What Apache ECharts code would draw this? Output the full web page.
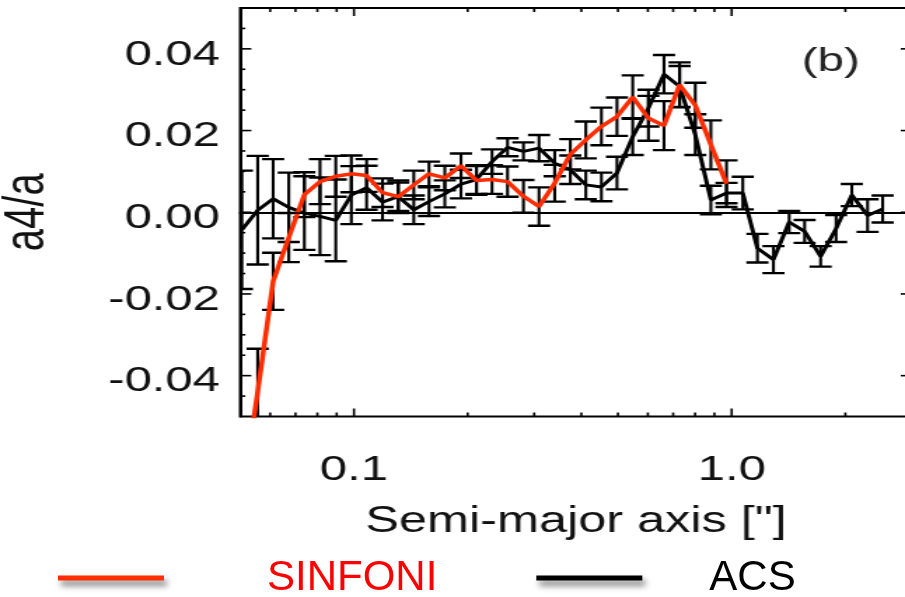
<!DOCTYPE html>
<html>
<head>
<meta charset="utf-8">
<title>a4/a versus semi-major axis</title>
<script src="https://cdn.jsdelivr.net/npm/echarts@6/dist/echarts.min.js"></script>
<style>
  html, body { margin: 0; padding: 0; background: #fff; overflow: hidden; }
  #page { position: relative; width: 905px; height: 597px; }
  /* the plot panel is typeset narrow and widened horizontally */
  #plot { position: absolute; left: 0; top: 0; width: 646px; height: 597px;
          transform-origin: 0 0; transform: scaleX(1.40093); }
  #key  { position: absolute; left: 0; top: 0; width: 905px; height: 597px; }
</style>
</head>
<body>
<div id="page"><div id="plot"></div><div id="key"></div></div>
<script>
// ACS isophotes: semi-major axis ["], a4/a and its 1-sigma error
const radiusAcs = [0.0505, 0.0556, 0.0611, 0.0672, 0.0739, 0.0813, 0.0895, 0.0984, 0.108, 0.119,
                   0.131, 0.144, 0.158, 0.174, 0.192, 0.211, 0.232, 0.255, 0.281, 0.309,
                   0.340, 0.374, 0.411, 0.452, 0.497, 0.547, 0.602, 0.662, 0.728, 0.801,
                   0.881, 0.969, 1.07, 1.17, 1.29, 1.42, 1.56, 1.72, 1.89, 2.08,
                   2.29, 2.51];
const a4Acs = [-0.0043, 0.0005, 0.0033, 0.0012, -0.0002, -0.0010, -0.0020, 0.0042, 0.0060, 0.0025,
               0.0038, 0.0006, 0.0026, 0.0045, 0.0069, 0.0080, 0.0124, 0.0159, 0.0149, 0.0157,
               0.0120, 0.0104, 0.0067, 0.0062, 0.0096, 0.0185, 0.0255, 0.0338, 0.0308, 0.0190,
               0.0030, 0.0047, 0.0047, -0.0088, -0.0116, -0.0024, -0.0047, -0.0108, -0.0040, 0.0042,
               -0.0008, 0.0008];
const errAcs = [0.0145, 0.0133, 0.0097, 0.0085, 0.0090, 0.0095, 0.0100, 0.0071, 0.0054, 0.0045,
                0.0040, 0.0035, 0.0035, 0.0033, 0.0035, 0.0035, 0.0030, 0.0022, 0.0022, 0.0032,
                0.0032, 0.0035, 0.0035, 0.0035, 0.0040, 0.0045, 0.0045, 0.0047, 0.0050, 0.0050,
                0.0035, 0.0025, 0.0040, 0.0035, 0.0033, 0.0027, 0.0028, 0.0025, 0.0033, 0.0027,
                0.0040, 0.0033];

// SINFONI isophotes
const radiusSinfoni = [0.0505, 0.0556, 0.0611, 0.0672, 0.0739, 0.0813, 0.0895, 0.0984, 0.108, 0.119,
                       0.131, 0.144, 0.158, 0.174, 0.192, 0.211, 0.232, 0.255, 0.281, 0.309,
                       0.340, 0.374, 0.411, 0.452, 0.497, 0.547, 0.602, 0.662, 0.728, 0.801,
                       0.881, 0.969];
const a4Sinfoni = [-0.0700, -0.0440, -0.0169, -0.0062, 0.0043, 0.0075, 0.0088, 0.0094, 0.0090, 0.0048,
                   0.0038, 0.0067, 0.0094, 0.0084, 0.0114, 0.0078, 0.0080, 0.0075, 0.0039, 0.0014,
                   0.0071, 0.0142, 0.0177, 0.0210, 0.0234, 0.0282, 0.0230, 0.0212, 0.0312, 0.0262,
                   0.0165, 0.0070];
const errSinfoni = [0.0120, 0.0106, 0.0070, 0.0060, 0.0055, 0.0055, 0.0050, 0.0045, 0.0040, 0.0035,
                    0.0035, 0.0035, 0.0030, 0.0030, 0.0030, 0.0035, 0.0035, 0.0037, 0.0040, 0.0047,
                    0.0045, 0.0037, 0.0045, 0.0046, 0.0047, 0.0053, 0.0055, 0.0060, 0.0055, 0.0055,
                    0.0060, 0.0057];

// axis ticks and their labels
const xMajorTicks = [0.1, 1];
const xTickLabels = ['0.1', '1.0'];
const xMinorTicks = [0.06, 0.07, 0.08, 0.09, 0.2, 0.3, 0.4, 0.5, 0.6, 0.7, 0.8, 0.9, 2, 3];
const yMajorTicks = [-0.04, -0.02, 0, 0.02, 0.04];
const yTickLabels = ['-0.04', '-0.02', '0.00', '0.02', '0.04'];
const yMinorTicks = [-0.045, -0.035, -0.03, -0.025, -0.015, -0.01, -0.005,
                     0.005, 0.01, 0.015, 0.025, 0.03, 0.035, 0.045];

const X_MIN = 0.05, X_MAX = 3, Y_MIN = -0.05, Y_MAX = 0.05;
const RED = '#ff2d00';
const FONT = '"Liberation Sans", Arial, Helvetica, sans-serif';
const INK = '#111';

function labelFor(v, ticks, labels) {
  for (let i = 0; i < ticks.length; i++) {
    if (Math.abs(v - ticks[i]) < 1e-6) return labels[i];
  }
  return '';
}

// tick marks on all four sides of the frame
const tickData = [].concat(
  xMajorTicks.map(v => [v, Y_MIN, 0, 1]),
  xMinorTicks.map(v => [v, Y_MIN, 0, 0]),
  yMajorTicks.map(v => [X_MIN, v, 1, 1]),
  yMinorTicks.map(v => [X_MIN, v, 1, 0])
);

function renderTick(params, api) {
  const axis = api.value(2), major = api.value(3);
  const st = { stroke: '#000', lineWidth: 1.6 };
  if (axis === 0) {
    const x = api.value(0);
    const b = api.coord([x, Y_MIN]), t = api.coord([x, Y_MAX]);
    const len = major ? 8 : 4;
    return { type: 'group', children: [
      { type: 'line', shape: { x1: b[0], y1: b[1], x2: b[0], y2: b[1] - len }, style: st },
      { type: 'line', shape: { x1: t[0], y1: t[1], x2: t[0], y2: t[1] + len }, style: st }
    ] };
  }
  const y = api.value(1);
  const l = api.coord([X_MIN, y]), r = api.coord([X_MAX, y]);
  const len = major ? 7.9 : 3.6;
  return { type: 'group', children: [
    { type: 'line', shape: { x1: l[0], y1: l[1], x2: l[0] + len, y2: l[1] }, style: st },
    { type: 'line', shape: { x1: r[0], y1: r[1], x2: r[0] - len, y2: r[1] }, style: st }
  ] };
}

function renderErrorBar(params, api) {
  const x = api.value(0);
  const lo = api.coord([x, api.value(1)]);
  const hi = api.coord([x, api.value(2)]);
  const w = 7.9;
  const cap = { stroke: '#000', lineWidth: 2.4 };
  return { type: 'group', children: [
    { type: 'line', shape: { x1: hi[0], y1: hi[1], x2: lo[0], y2: lo[1] }, style: { stroke: '#000', lineWidth: 2.1 } },
    { type: 'line', shape: { x1: hi[0] - w, y1: hi[1], x2: hi[0] + w, y2: hi[1] }, style: cap },
    { type: 'line', shape: { x1: lo[0] - w, y1: lo[1], x2: lo[0] + w, y2: lo[1] }, style: cap }
  ] };
}

const plot = echarts.init(document.getElementById('plot'));
plot.setOption({
  animation: false,
  backgroundColor: '#fff',
  grid: { left: 171.5, top: 8, width: 479.4, height: 408.5, show: true,
          outerBoundsMode: 'none', containLabel: false,
          borderColor: '#000', borderWidth: 2, backgroundColor: 'transparent' },
  xAxis: {
    type: 'log', logBase: 10, min: X_MIN, max: X_MAX,
    name: 'Semi-major axis ["]', nameLocation: 'middle', nameGap: 88,
    nameTextStyle: { fontFamily: FONT, fontSize: 36, color: INK },
    axisLine: { show: true, lineStyle: { color: '#000', width: 2 } },
    axisTick: { show: false },
    splitLine: { show: false },
    axisLabel: { margin: 36, fontFamily: FONT, fontSize: 35, color: INK,
                 formatter: v => labelFor(v, xMajorTicks, xTickLabels) }
  },
  yAxis: {
    type: 'value', min: Y_MIN, max: Y_MAX, interval: 0.01,
    name: 'a4/a', nameLocation: 'middle', nameGap: 132, nameRotate: 90,
    nameTextStyle: { fontFamily: FONT, fontSize: 40, color: INK },
    axisLine: { show: true, lineStyle: { color: '#000', width: 2 } },
    axisTick: { show: false },
    splitLine: { show: false },
    axisLabel: { margin: 14.5, fontFamily: FONT, fontSize: 35, color: INK,
                 verticalAlign: 'top', lineHeight: 12,
                 formatter: v => labelFor(v, yMajorTicks, yTickLabels) }
  },
  graphic: [{
    type: 'text', x: 593, y: 62,
    style: { text: '(b)', fontFamily: FONT, fontSize: 34, fill: '#222',
             textAlign: 'center', textVerticalAlign: 'middle' }
  }],
  series: [
    { type: 'custom', name: 'frame ticks', silent: true, clip: false,
      renderItem: renderTick, data: tickData, z: 5 },
    { type: 'custom', name: 'ACS error', silent: true, clip: true,
      encode: { x: 0, y: [1, 2] }, renderItem: renderErrorBar,
      data: radiusAcs.map((r, i) => [r, a4Acs[i] - errAcs[i], a4Acs[i] + errAcs[i]]) },
    { type: 'custom', name: 'SINFONI error', silent: true, clip: true,
      encode: { x: 0, y: [1, 2] }, renderItem: renderErrorBar,
      data: radiusSinfoni.map((r, i) => [r, a4Sinfoni[i] - errSinfoni[i], a4Sinfoni[i] + errSinfoni[i]]) },
    { type: 'line', name: 'ACS', showSymbol: false, symbol: 'none', clip: true,
      lineStyle: { color: '#000', width: 3 }, itemStyle: { color: '#000' },
      data: radiusAcs.map((r, i) => [r, a4Acs[i]]),
      markLine: { silent: true, symbol: 'none', label: { show: false },
                  lineStyle: { color: '#000', width: 1.6, type: 'solid' },
                  data: [{ yAxis: 0 }] } },
    { type: 'line', name: 'SINFONI', showSymbol: false, symbol: 'none', clip: true,
      lineStyle: { color: RED, width: 3.5 }, itemStyle: { color: RED },
      data: radiusSinfoni.map((r, i) => [r, a4Sinfoni[i]]) }
  ]
});

// key below the plot, set at normal width
const key = echarts.init(document.getElementById('key'));
key.setOption({
  animation: false,
  legend: {
    left: 58, top: 557, padding: 0, icon: 'rect', itemWidth: 106, itemHeight: 5, itemGap: 99,
    selectedMode: false,
    itemStyle: { shadowBlur: 6, shadowColor: 'rgba(0,0,0,0.55)', shadowOffsetX: 3, shadowOffsetY: 5 },
    textStyle: { fontFamily: FONT, fontSize: 42, color: '#000' },
    data: [
      { name: 'SINFONI', textStyle: { color: '#ff0000', padding: [0, 0, 0, 98] } },
      { name: 'ACS', textStyle: { color: '#000', padding: [0, 0, 0, 62] } }
    ]
  },
  series: [
    { type: 'custom', name: 'SINFONI', coordinateSystem: 'none', data: [],
      renderItem: () => null, itemStyle: { color: RED } },
    { type: 'custom', name: 'ACS', coordinateSystem: 'none', data: [],
      renderItem: () => null, itemStyle: { color: '#000' } }
  ]
});
</script>
</body>
</html>
